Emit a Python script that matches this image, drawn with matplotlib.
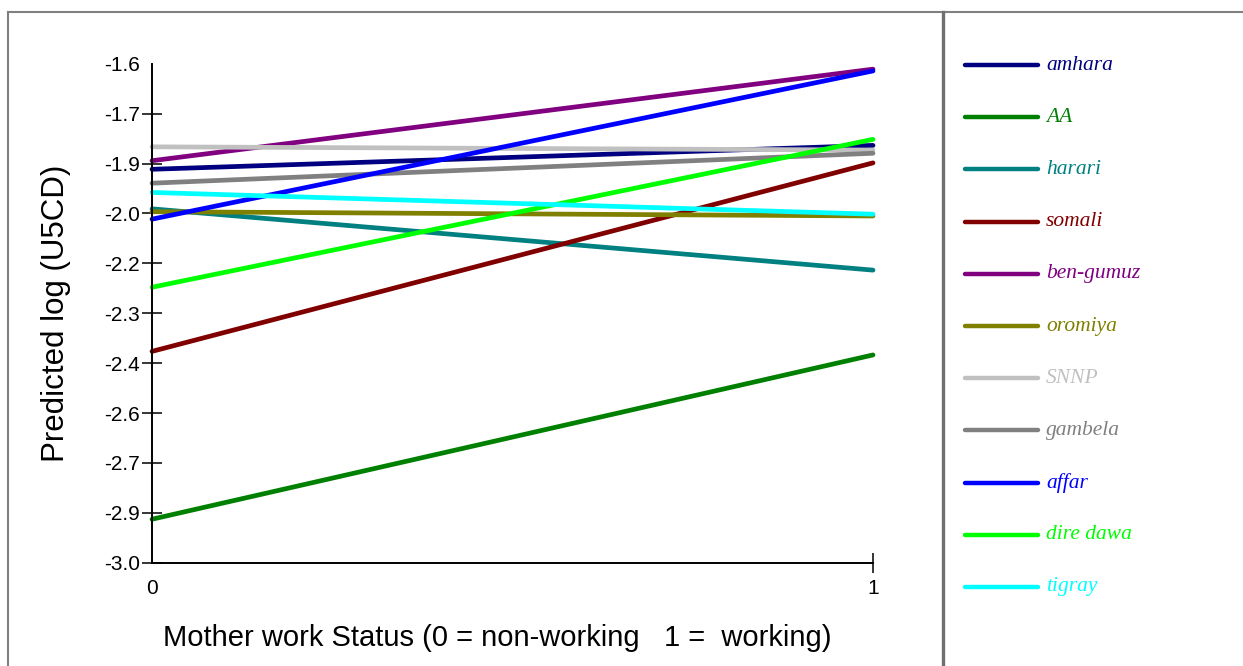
import numpy as np
import matplotlib.pyplot as plt
from matplotlib.lines import Line2D

plt.rcParams['axes.unicode_minus'] = False

# predicted log(U5CD) by region, at work status 0 and 1
regions = ['amhara', 'AA', 'harari', 'somali', 'ben-gumuz', 'oromiya',
           'SNNP', 'gambela', 'affar', 'dire dawa', 'tigray']
at_nonworking = [-1.896, -2.878, -2.007, -2.407, -1.872, -2.015,
                 -1.833, -1.935, -2.036, -2.227, -1.961]
at_working = [-1.829, -2.417, -2.179, -1.878, -1.615, -2.027,
              -1.842, -1.851, -1.620, -1.812, -2.022]
colors = ['#000080', '#008000', '#008080', '#800000', '#800080', '#808000',
          '#C0C0C0', '#808080', '#0000FF', '#00FF00', '#00FFFF']

work_status = [0, 1]
yticks = np.linspace(-1.6, -3.0, 11)
ytick_labels = ['%.1f' % v for v in yticks]

fig = plt.figure(figsize=(12.43, 6.66), dpi=100)
ax = fig.add_axes([152 / 1243, 103.3 / 666, 721 / 1243, 498.9 / 666])

for name, y0, y1, c in zip(regions, at_nonworking, at_working, colors):
    ax.plot(work_status, [y0, y1], color=c, lw=3.4, solid_capstyle='round',
            label=name, clip_on=False)

ax.set_xlim(0, 1)
ax.set_ylim(-3.0, -1.6)
ax.set_yticks(yticks)
ax.set_yticklabels(ytick_labels, family='Liberation Sans', fontsize=15)
ax.set_xticks([0, 1])
ax.set_xticklabels(['0', '1'], family='Liberation Sans', fontsize=15)
ax.tick_params(axis='both', direction='inout', length=15, width=1.1, pad=1)
ax.tick_params(axis='x', pad=4)
ax.yaxis.get_major_ticks()[0].tick1line.set_visible(False)
ax.xaxis.get_major_ticks()[0].tick1line.set_visible(False)

for side in ['top', 'right']:
    ax.spines[side].set_visible(False)
for side in ['left', 'bottom']:
    ax.spines[side].set_linewidth(1.4)

ax.set_xlabel('Mother work Status (0 = non-working   1 =  working)',
              family='Liberation Sans', fontsize=21)
ax.set_ylabel('Predicted log (U5CD)', family='Liberation Sans', fontsize=22.5)
ax.xaxis.set_label_coords(0.479, -0.122)
ax.yaxis.set_label_coords(-0.112, 0.5)

# legend panel on the right
W, H = 1243, 666
for i, (name, c) in enumerate(zip(regions, colors)):
    yy = 1 - (65 + i * 52.2) / H
    fig.add_artist(Line2D([965 / W, 1038 / W], [yy, yy], color=c, lw=3.2,
                          solid_capstyle='round'))
    fig.text(1046 / W, yy, name, color=c, family='Liberation Serif',
             style='italic', fontsize=15.5, va='center', ha='left')

# outer frame and divider
fig.add_artist(Line2D([8 / W, 1], [1 - 12 / H, 1 - 12 / H], color='#808080', lw=1.5))
fig.add_artist(Line2D([8 / W, 8 / W], [0, 1 - 12 / H], color='#808080', lw=1.5))
fig.add_artist(Line2D([943 / W, 943 / W], [0, 1 - 12 / H], color='#707070', lw=2.4))

fig.savefig('out.png', dpi=100)
